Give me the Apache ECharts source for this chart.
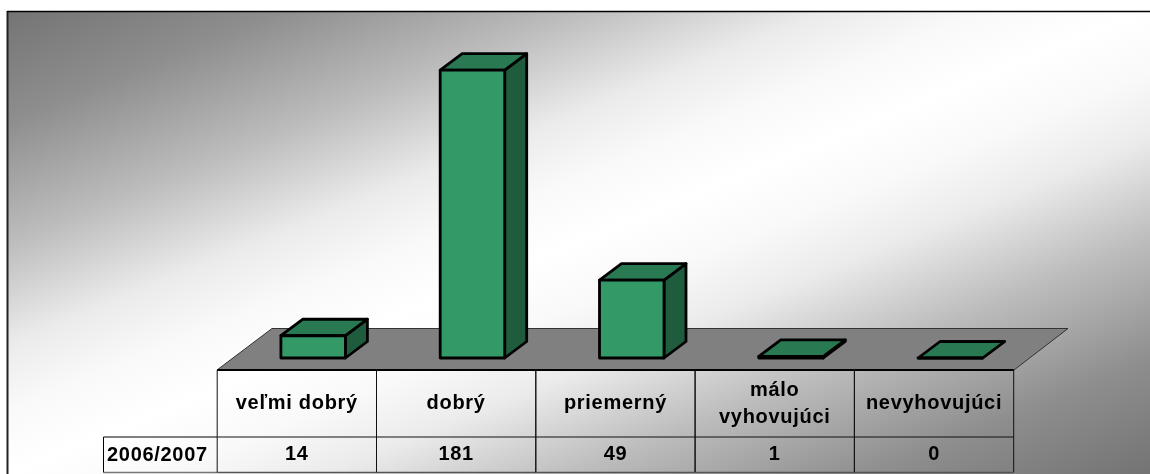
<!DOCTYPE html>
<html>
<head>
<meta charset="utf-8">
<style>html,body{margin:0;padding:0;background:#fff}#c{width:1150px;height:474px}</style>
<script src="https://cdn.jsdelivr.net/npm/echarts@6/dist/echarts.min.js"></script>
</head>
<body>
<div id="c"></div>
<script>
const categories = ['veľmi dobrý', 'dobrý', 'priemerný', 'málo\nvyhovujúci', 'nevyhovujúci'];
const seriesName = '2006/2007';
const values = [14, 181, 49, 1, 0];

const FONT = 'bold 20px "Liberation Sans", Arial, sans-serif';
const chart = echarts.init(document.getElementById('c'), null, {renderer: 'canvas'});
const barW = 64.5, dx = 22, dy = -16.5, cellShift = -16.3;
const rowTop = 370, rowMid = 437, rowBottom = 472.5;

function renderBar(params, api) {
  const i = api.value(0), v = api.value(1);
  const base = api.coord([i, 0]), top = api.coord([i, v]);
  const l = base[0] - barW / 2, r = base[0] + barW / 2, b = base[1], t = top[1];
  const stroke = {stroke: '#000', lineWidth: 2.8, lineJoin: 'round'};
  const kids = [];
  kids.push({type: 'polygon', shape: {points: [[r, b], [r + dx, b + dy], [r + dx, t + dy], [r, t]]}, style: {fill: '#1f5c3d', ...stroke}});
  kids.push({type: 'polygon', shape: {points: [[l, t], [r, t], [r + dx, t + dy], [l + dx, t + dy]]}, style: {fill: '#297a52', ...stroke}});
  kids.push({type: 'rect', shape: {x: l, y: t, width: barW, height: b - t}, style: {fill: '#339966', ...stroke}});
  return {type: 'group', children: kids};
}

function renderCell(params, api) {
  const i = api.value(0), v = api.value(1);
  const band = api.size([1, 0])[0];
  const cx = api.coord([i, 0])[0] + cellShift;
  const l = cx - band / 2, r = cx + band / 2;
  const line = {stroke: '#111', lineWidth: 1};
  return {type: 'group', children: [
    {type: 'line', shape: {x1: l, y1: rowTop, x2: l, y2: rowBottom}, style: line},
    {type: 'line', shape: {x1: r, y1: rowTop, x2: r, y2: rowBottom}, style: line},
    {type: 'line', shape: {x1: l, y1: rowMid, x2: r, y2: rowMid}, style: line},
    {type: 'line', shape: {x1: l, y1: rowTop, x2: r, y2: rowTop}, style: {stroke: '#000', lineWidth: 2}},
    {type: 'line', shape: {x1: l, y1: rowBottom, x2: r, y2: rowBottom}, style: {stroke: '#555', lineWidth: 1.5}},
    {type: 'text', style: {text: categories[i], x: cx, y: (rowTop + rowMid) / 2, align: 'center', verticalAlign: 'middle', font: FONT, fill: '#000', lineHeight: 27}},
    {type: 'text', style: {text: String(v), x: cx, y: (rowMid + rowBottom) / 2, align: 'center', verticalAlign: 'middle', font: FONT, fill: '#000'}}
  ]};
}

const indexed = values.map((v, i) => [i, v]);

chart.setOption({
  animation: false,
  backgroundColor: '#fff',
  grid: {left: 233.5, width: 796.5, top: 39.8, height: 318.2},
  xAxis: {type: 'category', data: categories, show: false},
  yAxis: {type: 'value', min: 0, max: 200, show: false},
  graphic: [
    {type: 'rect', z: 0, shape: {x: 8, y: 12, width: 1142, height: 462},
      style: {fill: new echarts.graphic.LinearGradient(413.5, -153.5, 736.5, 639.5, [
        {offset: 0, color: '#747474'}, {offset: 0.12, color: '#8e8e8e'}, {offset: 0.25, color: '#bcbcbc'},
        {offset: 0.36, color: '#ebebeb'}, {offset: 0.43, color: '#f9f9f9'}, {offset: 0.5, color: '#ffffff'},
        {offset: 0.57, color: '#f9f9f9'}, {offset: 0.64, color: '#ebebeb'}, {offset: 0.75, color: '#bcbcbc'},
        {offset: 0.88, color: '#8e8e8e'}, {offset: 1, color: '#747474'}], true)}},
    {type: 'line', z: 1, shape: {x1: 7.5, y1: 11, x2: 7.5, y2: 474}, style: {stroke: '#222', lineWidth: 2}},
    {type: 'line', z: 1, shape: {x1: 7, y1: 11.5, x2: 1150, y2: 11.5}, style: {stroke: '#000', lineWidth: 1.5}},
    {type: 'polygon', z: 1, shape: {points: [[217, 370], [272, 328.5], [1068, 328.5], [1014, 370]]},
      style: {fill: '#808080', stroke: '#333', lineWidth: 1}},
    {type: 'line', z: 1, shape: {x1: 103.5, y1: 437, x2: 217, y2: 437}, style: {stroke: '#000', lineWidth: 1}},
    {type: 'line', z: 1, shape: {x1: 103.5, y1: 437, x2: 103.5, y2: 472.5}, style: {stroke: '#000', lineWidth: 1}},
    {type: 'line', z: 1, shape: {x1: 103.5, y1: 472.5, x2: 217, y2: 472.5}, style: {stroke: '#777', lineWidth: 1.5}},
    {type: 'text', z: 5, style: {text: seriesName, x: 107, y: 455, align: 'left', verticalAlign: 'middle', font: FONT, fill: '#000'}}
  ],
  series: [
    {type: 'custom', name: seriesName, renderItem: renderCell, data: indexed, clip: false, z: 3},
    {type: 'custom', name: seriesName, renderItem: renderBar, data: indexed, clip: false, z: 4}
  ]
});

// The reference's table text is slightly letter-spaced; apply that on the drawing canvas and repaint.
const cv = chart.getDom().querySelector('canvas');
if (cv) {
  cv.getContext('2d').letterSpacing = '0.7px';
  chart.getZr().painter.refresh(true);
}
</script>
</body>
</html>
